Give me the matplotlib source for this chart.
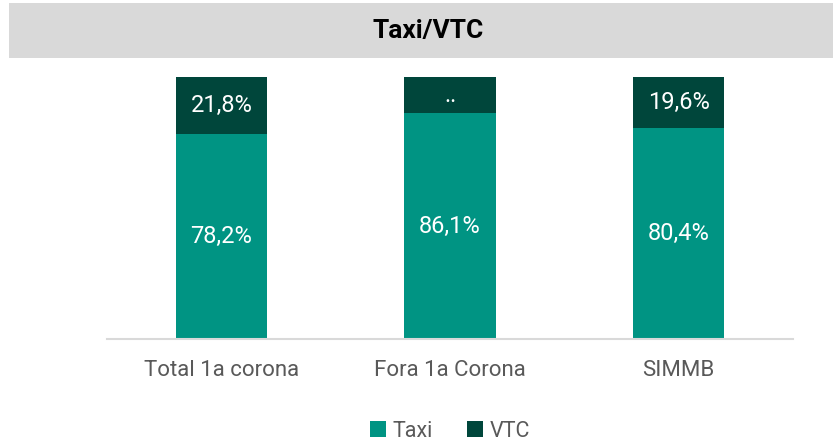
import matplotlib
matplotlib.use("Agg")
import matplotlib.pyplot as plt
from matplotlib.patches import Rectangle

categories = ["Total 1a corona", "Fora 1a Corona", "SIMMB"]
taxi = [78.2, 86.1, 80.4]
vtc = [21.8, 13.9, 19.6]
taxi_labels = ["78,2%", "86,1%", "80,4%"]
vtc_labels = ["21,8%", "..", "19,6%"]

taxi_color = "#009483"
vtc_color = "#00463B"

plt.rcParams["font.family"] = ["Roboto", "DejaVu Sans"]

fig = plt.figure(figsize=(8.33, 4.44), dpi=100)

# grey title banner
fig.patches.append(Rectangle((9 / 833, 1 - 58 / 444), 824 / 833, 55 / 444,
                             transform=fig.transFigure, facecolor="#D9D9D9",
                             edgecolor="none", zorder=0))
fig.text(428 / 833, 1 - 31 / 444, "Taxi/VTC", ha="center", va="center",
         fontsize=19, fontweight="bold", color="black")

ax = fig.add_axes([107 / 833, 1 - 339 / 444, 686 / 833, 262 / 444])
x = range(len(categories))
b1 = ax.bar(x, taxi, width=0.4, color=taxi_color, label="Taxi")
b2 = ax.bar(x, vtc, width=0.4, bottom=taxi, color=vtc_color, label="VTC")

for i in x:
    ax.text(i, taxi[i] / 2, taxi_labels[i], ha="center", va="center",
            color="white", fontsize=17)
    ax.text(i, taxi[i] + vtc[i] / 2, vtc_labels[i], ha="center", va="center",
            color="white", fontsize=17)

ax.set_xlim(-0.5, 2.5)
ax.set_ylim(0, 100)
ax.set_yticks([])
ax.set_xticks(list(x))
ax.set_xticklabels(categories, fontsize=16, color="#595959")
ax.tick_params(axis="x", length=0, pad=15)
for s in ["top", "right", "left"]:
    ax.spines[s].set_visible(False)
ax.spines["bottom"].set_color("#D9D9D9")
ax.spines["bottom"].set_linewidth(1.5)

fig.legend(handles=[b1, b2], labels=["Taxi", "VTC"], loc="center",
           bbox_to_anchor=(450 / 833, 1 - 431 / 444), ncol=2, frameon=False,
           fontsize=15.5, labelcolor="#595959", handlelength=0.75,
           handleheight=0.75, handletextpad=0.3, columnspacing=1.6)

fig.savefig("out.png", dpi=100)
